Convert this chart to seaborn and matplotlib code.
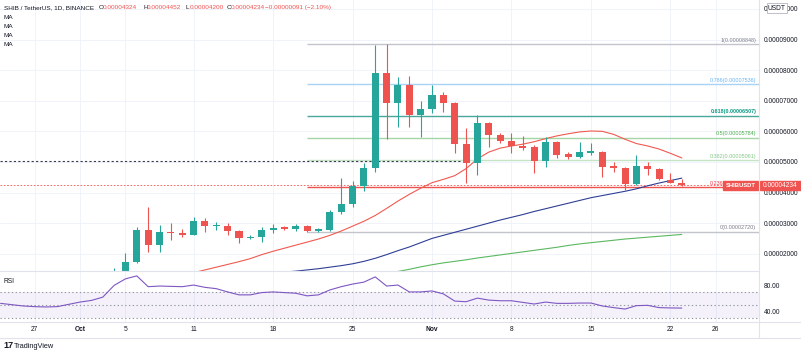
import matplotlib
matplotlib.use("Agg")
import matplotlib.pyplot as plt
import matplotlib.dates as mdates
from matplotlib import font_manager
from matplotlib.patches import Rectangle
from matplotlib.lines import Line2D
from matplotlib.transforms import blended_transform_factory
import numpy as np
import pandas as pd
import seaborn as sns

# prices are in units of 0.00001 USDT
SCALE = 1e-5

# daily candles, 4 Oct -> 23 Nov 2021
candle_start = "2021-10-04"
opens = [1.20, 1.30, 1.73, 2.775, 2.28, 2.71, 2.68, 2.61, 3.07, 2.89,
         2.90, 2.74, 2.51, 2.55, 2.77, 2.86, 2.80, 2.91, 2.74, 2.78,
         3.36, 3.62, 4.21, 4.80, 7.90, 6.92, 7.51, 6.53, 6.73, 7.19,
         6.93, 5.58, 4.96, 6.27, 5.88, 5.68, 5.52, 5.49, 5.03, 5.65,
         5.27, 5.15, 5.29, 5.33, 4.86, 4.80, 4.28, 4.87, 4.77, 4.41,
         4.324]
highs = [1.53, 2.03, 2.87, 3.53, 2.94, 3.00, 2.81, 3.20, 3.17, 3.04,
         3.00, 2.76, 2.60, 2.87, 2.97, 2.90, 2.97, 2.95, 2.85, 3.43,
         4.47, 4.38, 4.96, 8.82, 8.848, 7.77, 7.80, 6.99, 7.52, 7.28,
         6.96, 6.10, 6.53, 6.30, 5.94, 5.94, 5.85, 5.55, 5.81, 5.68,
         5.31, 5.65, 5.62, 5.36, 5.00, 4.83, 5.23, 5.00, 4.80, 4.63,
         4.452]
lows = [1.15, 1.28, 1.70, 2.06, 2.06, 2.45, 2.55, 2.60, 2.71, 2.78,
        2.60, 2.35, 2.47, 2.38, 2.67, 2.76, 2.74, 2.70, 2.71, 2.75,
        3.30, 3.53, 4.05, 4.67, 5.75, 6.14, 6.14, 5.81, 6.60, 6.63,
        5.29, 4.31, 4.57, 5.49, 5.62, 5.29, 5.39, 4.64, 4.83, 5.13,
        5.09, 5.13, 5.22, 4.50, 4.67, 4.08, 4.26, 4.57, 4.41, 4.30,
        4.200]
closes = [1.30, 1.73, 2.775, 2.28, 2.71, 2.68, 2.61, 3.07, 2.90, 2.90,
          2.74, 2.51, 2.55, 2.77, 2.84, 2.80, 2.91, 2.74, 2.81, 3.36,
          3.62, 4.21, 4.80, 7.90, 6.92, 7.51, 6.53, 6.73, 7.19, 6.93,
          5.58, 4.96, 6.27, 5.88, 5.68, 5.52, 5.45, 5.03, 5.65, 5.23,
          5.15, 5.32, 5.36, 4.83, 4.80, 4.28, 4.87, 4.77, 4.44, 4.325,
          4.234]

# moving averages
ma_red_start = "2021-10-04"
ma_red = [0.75, 0.85, 0.95, 1.05, 1.15, 1.24, 1.31, 1.38, 1.47, 1.56,
          1.65, 1.74, 1.84, 1.97, 2.08, 2.18, 2.28, 2.38, 2.48, 2.60,
          2.74, 2.90, 3.06, 3.25, 3.48, 3.72, 3.94, 4.14, 4.32, 4.43,
          4.55, 4.78, 5.10, 5.32, 5.45, 5.52, 5.58, 5.66, 5.76, 5.85,
          5.92, 5.98, 6.01, 6.00, 5.90, 5.74, 5.60, 5.52, 5.42, 5.28,
          5.13]
ma_blue_start = "2021-10-18"
ma_blue = [1.36, 1.40, 1.43, 1.47, 1.51, 1.56, 1.61, 1.67, 1.75, 1.85,
           1.97, 2.10, 2.22, 2.36, 2.50, 2.60, 2.70, 2.80, 2.90, 3.00,
           3.10, 3.19, 3.28, 3.38, 3.47, 3.56, 3.65, 3.74, 3.83, 3.90,
           3.97, 4.04, 4.12, 4.22, 4.31, 4.39, 4.47]
ma_green_start = "2021-10-27"
ma_green = [1.27, 1.35, 1.42, 1.49, 1.57, 1.64, 1.70, 1.75, 1.80, 1.86,
            1.91, 1.96, 2.01, 2.06, 2.11, 2.16, 2.21, 2.27, 2.32, 2.36,
            2.40, 2.44, 2.48, 2.51, 2.54, 2.57, 2.60, 2.63]

# RSI, 24 Sep -> 23 Nov
rsi_start = "2021-09-24"
rsi = [52.5, 50.5, 48.5, 47.5, 47, 47.5, 51, 54.5, 57, 62,
       80, 90, 94.5, 78, 79, 78.5, 78, 80.5, 77, 75,
       70, 65.5, 65.5, 69, 70, 69, 68, 64, 65.5, 73,
       78, 82, 85, 93, 79, 80.5, 70, 70, 71.5, 67,
       56, 55, 60.5, 57.5, 56.5, 56.5, 54, 51.5, 54.5, 52.5,
       52.5, 53, 53, 48.5, 46, 43.8, 49, 49.5, 46, 45.5,
       45.3]

# fibonacci retracement
fib_start = "2021-10-21"
fib_ratios = ["1", "0.786", "0.618", "0.5", "0.382", "0.236", "0"]
fib_prices = [8.848, 7.536, 6.507, 5.784, 5.061, 4.166, 2.720]
fib_line_colors = ["#c3c5cc", "#a9d3f5", "#4aa79c", "#a5d6a7", "#c5e4c6", "#ef5350", "#c3c5cc"]
fib_text_colors = ["#787b86", "#64b5f6", "#089981", "#4caf50", "#81c784", "#f23645", "#787b86"]

prev_level = 5.04
prev_level_end = "2021-11-03 14:00"

price_ticks = [2, 3, 4, 5, 6, 7, 8, 9, 10]
rsi_ticks = [80, 40]
date_ticks = ["2021-09-27", "2021-10-01", "2021-10-05", "2021-10-11", "2021-10-18",
              "2021-10-25", "2021-11-01", "2021-11-08", "2021-11-15", "2021-11-22", "2021-11-26"]
date_labels = ["27", "Oct", "5", "11", "18", "25", "Nov", "8", "15", "22", "26"]

TEAL = "#26a69a"
RED = "#ef5350"
TXT = "#131722"
GRID = "#f0f3fa"
SEP = "#e0e3eb"

sns.set_style("white")
# narrow face looks closer to the screenshot's text; fall back to the regular one
installed = {f.name for f in font_manager.fontManager.ttflist}
if "Liberation Sans Narrow" in installed:
    plt.rcParams["font.family"] = ["Liberation Sans Narrow", "DejaVu Sans"]
    K = 1.2
else:
    plt.rcParams["font.family"] = ["Liberation Sans", "DejaVu Sans"]
    K = 1.0
FS = 4.8 * K
HFS = 4.6 * K
FIBFS = 3.9 * K

W, H = 801, 353
fig = plt.figure(figsize=(W / 100, H / 100), dpi=100)


def frame(x0, y0, x1, y1):
    return [x0 / W, 1 - y1 / H, (x1 - x0) / W, (y1 - y0) / H]


def days(start, n):
    return mdates.date2num(pd.date_range(start, periods=n, freq="D"))


def fmt(p):
    return f"{p * SCALE:.8f}"


ax = fig.add_axes(frame(0, 0, 759, 271))
rx = fig.add_axes(frame(0, 271, 759, 322), sharex=ax)

oct1 = mdates.date2num(pd.Timestamp("2021-10-01"))
x_lo, x_hi = oct1 - 7.05, oct1 + 59.8
tick_x = mdates.date2num(pd.to_datetime(date_ticks))

# grid
for a in (ax, rx):
    for tx in tick_x:
        a.axvline(tx, color=GRID, lw=0.7, zorder=0)
for p in price_ticks:
    ax.axhline(p * SCALE, color=GRID, lw=0.7, zorder=0)

# candles
x = days(candle_start, len(opens))
o = np.array(opens) * SCALE
h = np.array(highs) * SCALE
l = np.array(lows) * SCALE
c = np.array(closes) * SCALE
cols = np.where(c >= o, TEAL, RED)
ax.vlines(x, l, h, colors=cols, lw=0.8, zorder=3)
ax.bar(x, np.maximum(np.abs(c - o), 0.04 * SCALE), bottom=np.minimum(o, c),
       width=0.62, color=cols, linewidth=0, zorder=4)

# moving averages
for start, vals, col in [(ma_red_start, ma_red, "#f05a50"),
                         (ma_blue_start, ma_blue, "#2e3f95"),
                         (ma_green_start, ma_green, "#5cb860")]:
    sns.lineplot(x=days(start, len(vals)), y=np.array(vals) * SCALE, ax=ax,
                 color=col, lw=0.8, zorder=2)

# fibonacci levels
fx0 = mdates.date2num(pd.Timestamp(fib_start))
lab_tr = blended_transform_factory(ax.transAxes, ax.transData)
for r, p, lc, tc in zip(fib_ratios, fib_prices, fib_line_colors, fib_text_colors):
    ax.hlines(p * SCALE, fx0, x_hi, color=lc, lw=1.0, zorder=1)
    ax.text(0.9965, p * SCALE + 0.05 * SCALE, f"{r}({fmt(p)})", transform=lab_tr,
            ha="right", va="bottom", fontsize=FIBFS, color=tc,
            fontweight="bold" if r == "0.618" else "normal", zorder=6)

# dashed levels
ax.hlines(prev_level * SCALE, x_lo, mdates.date2num(pd.Timestamp(prev_level_end)),
          color="#3a3d48", lw=0.8, linestyles=(0, (2, 2)), zorder=1)
ax.axhline(closes[-1] * SCALE, color=RED, lw=0.6, ls=(0, (2, 2)), zorder=1)

ax.set_xlim(x_lo, x_hi)
ax.set_ylim(1.435 * SCALE, 10.291 * SCALE)
ax.yaxis.tick_right()
ax.set_yticks([p * SCALE for p in price_ticks])
ax.set_yticklabels([fmt(p) for p in price_ticks])
ax.tick_params(axis="y", length=0, pad=3.5, labelsize=FS, labelcolor=TXT)
ax.tick_params(axis="x", length=0, labelbottom=False)
ax.set_xlabel("")
ax.set_ylabel("")
for s in ax.spines.values():
    s.set_visible(False)

# RSI panel
rx.axhspan(30, 70, color="#7e57c2", alpha=0.08, lw=0, zorder=0)
for lvl in (70, 50, 30):
    rx.axhline(lvl, color="#9598a1", lw=0.8, ls=(0, (1.2, 2.2)), zorder=1)
sns.lineplot(x=days(rsi_start, len(rsi)), y=rsi, ax=rx, color="#7e57c2", lw=0.8, zorder=3)
rx.set_ylim(24, 102)
rx.yaxis.tick_right()
rx.set_yticks(rsi_ticks)
rx.set_yticklabels([f"{v:.2f}" for v in rsi_ticks])
rx.tick_params(axis="y", length=0, pad=3.5, labelsize=FS, labelcolor=TXT)
rx.set_xticks(tick_x)
rx.set_xticklabels(date_labels)
rx.tick_params(axis="x", length=0, pad=3.0, labelsize=FS, labelcolor=TXT)
for t in rx.get_xticklabels():
    if t.get_text() in ("Oct", "Nov"):
        t.set_fontweight("bold")
rx.set_xlabel("")
rx.set_ylabel("")
for s in rx.spines.values():
    s.set_visible(False)
rx.text(4 / 759, 0.80, "RSI", transform=rx.transAxes, fontsize=FS, color=TXT, va="center")

# separators
fig.add_artist(Line2D([0, 759 / W], [1 - 271 / H] * 2, color=SEP, lw=0.8))
fig.add_artist(Line2D([0, 1], [1 - 322 / H] * 2, color=SEP, lw=0.8))
fig.add_artist(Line2D([0, 1], [1 - 338 / H] * 2, color=SEP, lw=0.8))
fig.add_artist(Line2D([759 / W] * 2, [1 - 338 / H, 1], color=SEP, lw=0.8))

# last price tags
tag_tr = blended_transform_factory(fig.transFigure, ax.transData)
yc = closes[-1] * SCALE
hh = 0.14 * SCALE
ax.add_artist(Rectangle((723 / W, yc - hh), 35 / W, 2 * hh, transform=tag_tr,
                        color=RED, clip_on=False, zorder=8))
ax.add_artist(Rectangle((760 / W, yc - hh), 41 / W, 2 * hh, transform=tag_tr,
                        color=RED, clip_on=False, zorder=8))
ax.text(740.5 / W, yc, "SHIBUSDT", transform=tag_tr, ha="center", va="center",
        fontsize=4.2 * K, color="white", fontweight="bold", zorder=9, clip_on=False)
ax.text(780.5 / W, yc, fmt(closes[-1]), transform=tag_tr, ha="center",
        va="center", fontsize=FS, color="white", zorder=9, clip_on=False)

# currency tag over the top price label
fig.text(777 / W, 1 - 8 / H, "USDT", ha="center", va="center", fontsize=FS, color=TXT,
         bbox=dict(boxstyle="square,pad=0.2", fc="white", ec="#b2b5be", lw=0.6))

# header
hdr_y = 1 - 7.5 / H
fig.text(4 / W, hdr_y, "SHIB / TetherUS, 1D, BINANCE", fontsize=HFS, color=TXT, va="center")
pieces = [(99, "O", TXT), (103, fmt(opens[-1]), RED),
          (143, "H", TXT), (147, fmt(highs[-1]), RED),
          (186, "L", TXT), (189.5, fmt(lows[-1]), RED),
          (227, "C", TXT), (231, fmt(closes[-1]), RED),
          (265, "\u22120.00000091 (\u22122.10%)", RED)]
for px, s, col in pieces:
    fig.text(px / W, hdr_y, s, fontsize=HFS, color=col, va="center")
for py in (17.7, 26.7, 35.7, 44.7):
    fig.text(4 / W, 1 - py / H, "MA", fontsize=HFS, color=TXT, va="center")

# footer
fig.text(3 / W, 1 - 346 / H, "17", fontsize=6.5, fontweight="heavy", color=TXT, va="center")
fig.text(14 / W, 1 - 346 / H, "TradingView", fontsize=5.3 * K, color=TXT, va="center")

fig.savefig("out.png", dpi=100)
